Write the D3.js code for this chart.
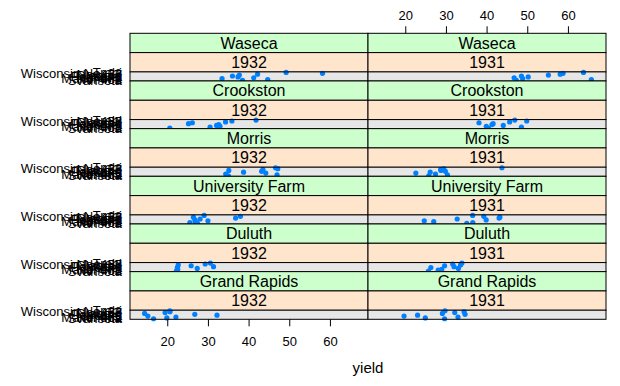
<!DOCTYPE html>
<html>
<head>
<meta charset="utf-8">
<script src="https://d3js.org/d3.v7.min.js"></script>
<style>
body { margin: 0; background: #fff; }
svg text { font-family: "Liberation Sans", Arial, sans-serif; fill: #000; }
</style>
</head>
<body>
<svg id="chart" width="620" height="386"></svg>
<script>
// varieties, bottom to top
var varieties = ["Svansota","No. 462","Manchuria","No. 475","Velvet","Peatland","Glabron","No. 457","Wisconsin No. 38","Trebi"];
// sites, top to bottom
var sites = ["Waseca","Crookston","Morris","University Farm","Duluth","Grand Rapids"];
var years = ["1932","1931"];
var xTicks = [20,30,40,50,60];

// yields in the same order as varieties
var waseca1932   = [38.5, 44.7, 33.47, 41.27, 37.4, 36.03, 37.73, 42.2, 58.17, 49.23];
var crookston1932 = [20.63, 30.53, 32.97, 32.13, 32.67, 25.23, 26.17, 34.33, 35.9, 41.83];
var morris1932   = [35.03, 47.0, 34.37, 44.23, 38.77, 43.2, 35.13, 43.53, 47.17, 46.63];
var univFarm1932 = [27.43, 25.57, 26.9, 30.0, 26.8, 28.07, 36.8, 26.43, 38.0, 29.07];
var duluth1932   = [22.23, 22.5, 22.57, 27.37, 22.47, 31.37, 25.87, 22.7, 29.33, 30.6];
var grandRap1932 = [16.63, 19.9, 22.13, 15.23, 32.23, 26.77, 14.43, 19.47, 20.67, 20.63];

var waseca1931   = [47.33, 65.77, 48.87, 46.77, 50.23, 48.57, 55.2, 58.1, 58.8, 63.83];
var crookston1931 = [40.47, 48.57, 39.93, 44.1, 41.33, 41.6, 38.13, 45.67, 49.87, 46.93];
var morris1931   = [25.77, 30.37, 27.43, 22.6, 26.13, 29.87, 28.77, 28.7, 29.47, 43.77];
var univFarm1931 = [35.13, 36.6, 27.0, 24.67, 39.9, 32.77, 43.07, 43.27, 39.3, 36.57];
var duluth1931   = [25.7, 28.1, 28.97, 33.07, 26.3, 32.0, 29.67, 33.6, 31.67, 33.93];
var grandRap1931 = [29.67, 24.93, 32.97, 19.7, 23.03, 34.7, 29.13, 32.17, 34.47, 29.77];

var yields = {
  "1932": [waseca1932, crookston1932, morris1932, univFarm1932, duluth1932, grandRap1932],
  "1931": [waseca1931, crookston1931, morris1931, univFarm1931, duluth1931, grandRap1931]
};

var plotLeft = 130, plotRight = 606, plotTop = 33.3, plotBottom = 319.3;
var colW = (plotRight - plotLeft) / 2;
var rowH = (plotBottom - plotTop) / 6;
var stripH = 19.3;
var panelH = rowH - 2 * stripH;

var svg = d3.select("#chart");

var all = [].concat.apply([], years.map(function(yr) { return [].concat.apply([], yields[yr]); }));
var ext = d3.extent(all);
var pad = (ext[1] - ext[0]) * 0.07;

var x = d3.scaleLinear().domain([ext[0] - pad, ext[1] + pad]).range([0, colW]);
var y = d3.scalePoint().domain(varieties.slice().reverse()).range([0, panelH]).padding(0.6);

years.forEach(function(yr, c) {
  sites.forEach(function(site, r) {
    var g = svg.append("g")
      .attr("transform", "translate(" + (plotLeft + c * colW) + "," + (plotTop + r * rowH) + ")");

    // site strip
    g.append("rect").attr("width", colW).attr("height", stripH)
      .attr("fill", "#ccffcc").attr("stroke", "#000");
    g.append("text").attr("x", colW / 2).attr("y", stripH / 2).attr("dy", "0.36em")
      .attr("text-anchor", "middle").style("font-size", "16px").text(site);

    // year strip
    g.append("rect").attr("y", stripH).attr("width", colW).attr("height", stripH)
      .attr("fill", "#ffe5cc").attr("stroke", "#000");
    g.append("text").attr("x", colW / 2).attr("y", stripH * 1.5).attr("dy", "0.36em")
      .attr("text-anchor", "middle").style("font-size", "16px").text(yr);

    var p = g.append("g").attr("transform", "translate(0," + (2 * stripH) + ")");
    p.selectAll("line.ref").data(varieties).enter().append("line")
      .attr("class", "ref")
      .attr("x1", 0).attr("x2", colW)
      .attr("y1", function(d) { return y(d); })
      .attr("y2", function(d) { return y(d); })
      .attr("stroke", "#e6e6e6").attr("stroke-width", 1.3);

    p.selectAll("circle").data(yields[yr][r]).enter().append("circle")
      .attr("cx", function(d) { return x(d); })
      .attr("cy", function(d, i) { return y(varieties[i]); })
      .attr("r", 2.6)
      .attr("fill", "#0080ff");

    p.append("rect").attr("width", colW).attr("height", panelH)
      .attr("fill", "none").attr("stroke", "#000");

    // variety labels on the left column
    if (c === 0) {
      p.selectAll("text.lab").data(varieties).enter().append("text")
        .attr("class", "lab")
        .attr("x", -8)
        .attr("y", function(d) { return y(d); })
        .attr("dy", "0.35em")
        .attr("text-anchor", "end")
        .style("font-size", "13px")
        .text(function(d) { return d; });
    }
  });
});

// top axis over the right column
var topAxis = svg.append("g")
  .attr("transform", "translate(" + (plotLeft + colW) + "," + plotTop + ")")
  .call(d3.axisTop(x).tickValues(xTicks).tickSize(7).tickPadding(6));
topAxis.select(".domain").remove();

// bottom axis under the left column
var botAxis = svg.append("g")
  .attr("transform", "translate(" + plotLeft + "," + plotBottom + ")")
  .call(d3.axisBottom(x).tickValues(xTicks).tickSize(7).tickPadding(10));
botAxis.select(".domain").remove();

[topAxis, botAxis].forEach(function(a) {
  a.selectAll("text").style("font-size", "13px").attr("fill", "#000")
    .style("font-family", "Liberation Sans, Arial, sans-serif");
  a.selectAll("line").attr("stroke", "#000");
});

svg.append("text")
  .attr("x", plotLeft + colW).attr("y", 373)
  .attr("text-anchor", "middle")
  .style("font-size", "15px")
  .text("yield");
</script>
</body>
</html>
